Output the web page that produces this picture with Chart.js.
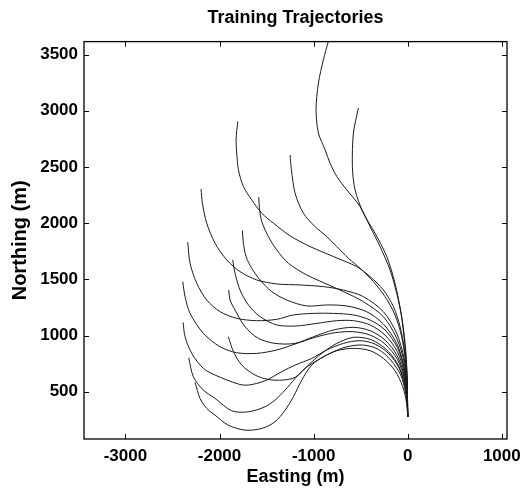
<!DOCTYPE html>
<html>
<head>
<meta charset="utf-8">
<script src="https://cdn.jsdelivr.net/npm/chart.js@4/dist/chart.umd.min.js"></script>
<style>
html, body { margin: 0; padding: 0; background: #fff; }
</style>
</head>
<body>
<canvas id="myChart" width="525" height="497"></canvas>
<script>
// each trajectory: [easting, northing] pairs in metres, from the far end back to the start
var trajA = [[-825, 3663], [-843, 3619], [-896, 3455], [-949, 3247], [-974, 3010], [-949, 2802], [-878, 2653], [-825, 2534], [-754, 2416], [-648, 2297], [-507, 2148], [-400, 1970], [-294, 1792], [-188, 1584], [-117, 1376], [-64, 1168], [-28, 930], [-7, 663], [0, 275]];
var trajB = [[-524, 3025], [-577, 2802], [-588, 2505], [-560, 2297], [-471, 2089], [-347, 1911], [-223, 1703], [-135, 1465], [-71, 1197], [-32, 930], [-7, 633], [0, 275]];
var trajC = [[-1806, 2906], [-1824, 2742], [-1817, 2624], [-1799, 2475], [-1746, 2326], [-1658, 2208], [-1551, 2089], [-1427, 2000], [-1250, 1887], [-1038, 1792], [-790, 1703], [-542, 1613], [-400, 1524], [-259, 1406], [-152, 1257], [-81, 1079], [-35, 871], [-11, 633], [0, 275]];
var trajD = [[-1250, 2606], [-1236, 2475], [-1197, 2267], [-1109, 2089], [-985, 1970], [-861, 1881], [-754, 1792], [-630, 1688], [-507, 1599], [-365, 1480], [-241, 1346], [-135, 1183], [-64, 989], [-21, 752], [-4, 514], [0, 275]];
var trajE = [[-2196, 2303], [-2182, 2178], [-2136, 2000], [-2047, 1821], [-1923, 1673], [-1782, 1569], [-1605, 1495], [-1392, 1459], [-1144, 1450], [-896, 1435], [-684, 1405], [-471, 1346], [-259, 1212], [-117, 1019], [-39, 796], [-7, 544], [0, 275]];
var trajF = [[-1583, 2232], [-1576, 2133], [-1551, 2015], [-1481, 1881], [-1392, 1762], [-1268, 1643], [-1073, 1539], [-896, 1471], [-684, 1391], [-471, 1301], [-259, 1168], [-117, 975], [-35, 752], [-7, 500], [0, 275]];
var trajG = [[-1757, 1934], [-1746, 1821], [-1718, 1703], [-1658, 1599], [-1569, 1495], [-1445, 1391], [-1286, 1316], [-1073, 1263], [-861, 1272], [-648, 1263], [-436, 1212], [-259, 1102], [-117, 930], [-39, 722], [-7, 485], [0, 275]];
var trajH = [[-2338, 1830], [-2313, 1643], [-2242, 1465], [-2136, 1316], [-1994, 1212], [-1817, 1153], [-1605, 1132], [-1392, 1144], [-1215, 1183], [-1002, 1197], [-790, 1197], [-577, 1183], [-400, 1138], [-241, 1049], [-110, 894], [-35, 692], [-7, 485], [0, 275]];
var trajW = [[-1860, 1673], [-1835, 1554], [-1782, 1405], [-1693, 1272], [-1569, 1168], [-1392, 1094], [-1180, 1085], [-967, 1108], [-754, 1132], [-577, 1132], [-400, 1094], [-241, 1004], [-110, 856], [-35, 663], [-7, 470], [0, 275]];
var trajU = [[-1902, 1405], [-1888, 1316], [-1835, 1227], [-1729, 1079], [-1587, 975], [-1410, 930], [-1197, 930], [-1002, 989], [-790, 1049], [-577, 1073], [-400, 1043], [-241, 960], [-110, 817], [-35, 633], [-7, 455], [0, 275]];
var trajT = [[-2391, 1480], [-2366, 1346], [-2313, 1197], [-2171, 1019], [-1994, 900], [-1817, 847], [-1605, 841], [-1392, 871], [-1197, 924], [-985, 984], [-772, 1025], [-577, 1034], [-400, 1004], [-241, 924], [-110, 788], [-32, 603], [-7, 440], [0, 275]];
var trajS = [[-1906, 989], [-1852, 856], [-1764, 737], [-1622, 648], [-1481, 609], [-1339, 603], [-1197, 627], [-1056, 737], [-914, 841], [-754, 930], [-577, 984], [-400, 966], [-241, 886], [-110, 752], [-32, 574], [-7, 425], [0, 275]];
var trajR = [[-2387, 1117], [-2366, 989], [-2295, 841], [-2171, 707], [-2047, 648], [-1799, 568], [-1693, 559], [-1516, 597], [-1339, 678], [-1197, 737], [-1020, 796], [-861, 871], [-684, 930], [-507, 954], [-347, 924], [-205, 841], [-89, 707], [-25, 529], [-7, 395], [0, 275]];
var trajQ = [[-2327, 802], [-2278, 633], [-2171, 514], [-2047, 440], [-1870, 330], [-1693, 321], [-1516, 366], [-1410, 425], [-1303, 514], [-1197, 618], [-1091, 707], [-985, 767], [-825, 841], [-648, 900], [-471, 915], [-312, 877], [-181, 782], [-74, 648], [-21, 485], [-4, 366], [0, 275]];
var trajP = [[-2260, 583], [-2207, 440], [-2136, 351], [-2047, 291], [-1906, 202], [-1729, 158], [-1551, 173], [-1410, 232], [-1303, 336], [-1215, 455], [-1126, 603], [-1020, 737], [-896, 811], [-754, 865], [-577, 886], [-400, 865], [-259, 796], [-135, 687], [-53, 544], [-11, 395], [0, 275]];

var trajectories = [trajA, trajB, trajC, trajD, trajE, trajF, trajG, trajH, trajW, trajU, trajT, trajS, trajR, trajQ, trajP];

var xTicks = [-3000, -2000, -1000, 0, 1000];
var yTicks = [500, 1000, 1500, 2000, 2500, 3000, 3500];
var xRange = [-3440, 1055];
var yRange = [79, 3616];

var fontFamily = "'Liberation Sans', Arial, Helvetica, sans-serif";

//build one dataset per trajectory
var lineDataSets = [];
for (var i = 0; i < trajectories.length; i++) {
    var pts = [];
    for (var j = 0; j < trajectories[i].length; j++) {
        pts.push({ x: trajectories[i][j][0], y: trajectories[i][j][1] });
    }
    lineDataSets.push({
        data: pts,
        showLine: true,
        borderColor: "#1a1a1a",
        borderWidth: 1,
        pointRadius: 0,
        tension: 0.3,
        fill: false
    });
}

//matlab style box with inward ticks on all four sides
var boxPlugin = {
    id: "box",
    afterDatasetsDraw: function (chart) {
        var ctx = chart.ctx,
            a = chart.chartArea,
            sx = chart.scales.x,
            sy = chart.scales.y,
            len = 5;
        ctx.save();
        ctx.strokeStyle = "#000";
        ctx.lineWidth = 1.3;
        ctx.strokeRect(a.left, a.top, a.right - a.left, a.bottom - a.top);
        ctx.lineWidth = 1;
        ctx.beginPath();
        sx.ticks.forEach(function (t) {
            var px = Math.round(sx.getPixelForValue(t.value)) + 0.5;
            ctx.moveTo(px, a.bottom);
            ctx.lineTo(px, a.bottom - len);
            ctx.moveTo(px, a.top);
            ctx.lineTo(px, a.top + len);
        });
        sy.ticks.forEach(function (t) {
            var py = Math.round(sy.getPixelForValue(t.value)) + 0.5;
            ctx.moveTo(a.left, py);
            ctx.lineTo(a.left + len, py);
            ctx.moveTo(a.right, py);
            ctx.lineTo(a.right - len, py);
        });
        ctx.stroke();
        ctx.restore();
    }
};

var ctx1 = document.getElementById("myChart");
var myChart = new Chart(ctx1, {
    type: "scatter",
    data: { datasets: lineDataSets },
    plugins: [boxPlugin],
    options: {
        responsive: false,
        animation: false,
        devicePixelRatio: 1,
        layout: { padding: { left: 0, right: 18, top: 0, bottom: 0 } },
        plugins: {
            legend: { display: false },
            tooltip: { enabled: false },
            title: {
                display: true,
                fullSize: false,
                text: "Training Trajectories",
                color: "#000",
                font: { family: fontFamily, size: 18, weight: "bold" },
                padding: { top: 7, bottom: 13 }
            }
        },
        scales: {
            x: {
                type: "linear",
                position: "bottom",
                min: xRange[0],
                max: xRange[1],
                grid: { display: false, drawTicks: false },
                border: { display: false },
                afterBuildTicks: function (s) {
                    s.ticks = xTicks.map(function (v) { return { value: v }; });
                },
                afterFit: function (s) {
                    s.height = 58;
                    s.paddingLeft = 0;
                    s.paddingRight = 0;
                },
                ticks: {
                    color: "#000",
                    padding: 7,
                    maxRotation: 0,
                    autoSkip: false,
                    font: { family: fontFamily, size: 17, weight: "bold" },
                    callback: function (v) { return String(v); }
                },
                title: {
                    display: true,
                    text: "Easting (m)",
                    color: "#000",
                    font: { family: fontFamily, size: 18, weight: "bold" },
                    padding: { top: 0, bottom: 9 }
                }
            },
            y: {
                type: "linear",
                position: "left",
                min: yRange[0],
                max: yRange[1],
                grid: { display: false, drawTicks: false },
                border: { display: false },
                afterBuildTicks: function (s) {
                    s.ticks = yTicks.map(function (v) { return { value: v }; });
                },
                afterFit: function (s) {
                    s.width = 84;
                    s.paddingTop = 0;
                    s.paddingBottom = 0;
                },
                ticks: {
                    color: "#000",
                    padding: 6,
                    autoSkip: false,
                    font: { family: fontFamily, size: 17, weight: "bold" },
                    callback: function (v) { return String(v); }
                },
                title: {
                    display: true,
                    text: "Northing (m)",
                    color: "#000",
                    font: { family: fontFamily, size: 20, weight: "bold" },
                    padding: { top: 8, bottom: 0 }
                }
            }
        }
    }
});
</script>
</body>
</html>
